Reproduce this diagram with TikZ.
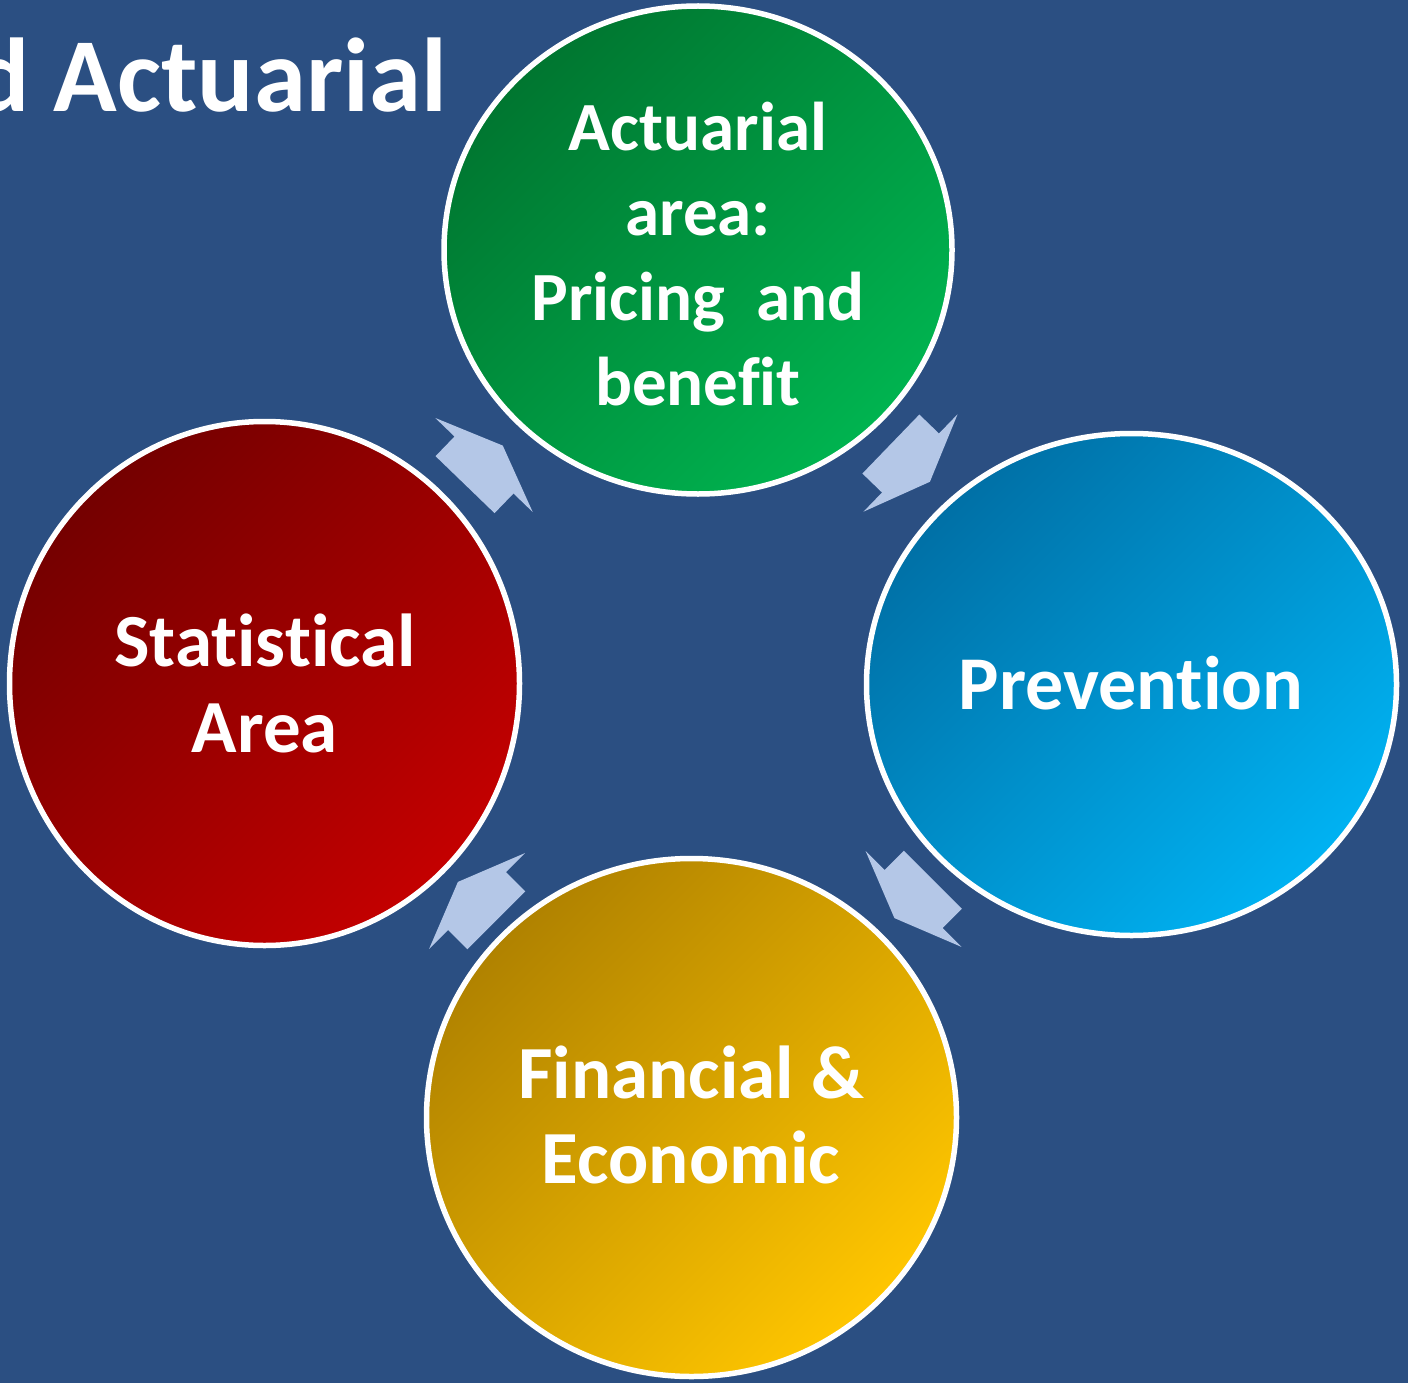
\documentclass[tikz,border=0pt]{standalone}
\usepackage{fontspec}
\setmainfont[Ligatures=NoCommon]{Carlito}
\usetikzlibrary{shapes.geometric}
\definecolor{bgblue}{RGB}{43,79,130}
\definecolor{arrowc}{RGB}{180,199,231}
\definecolor{grA}{RGB}{0,118,48}
\definecolor{grB}{RGB}{0,180,80}
\definecolor{blA}{RGB}{0,112,166}
\definecolor{blB}{RGB}{0,178,242}
\definecolor{goA}{RGB}{176,130,0}
\definecolor{goB}{RGB}{255,198,0}
\definecolor{reA}{RGB}{116,0,0}
\definecolor{reB}{RGB}{196,0,0}
\begin{document}
\begin{tikzpicture}[x=1pt,y=-1pt,
  bubble/.style={ellipse, draw=white, line width=5.5pt, inner sep=0pt},
  diag/.style={shading angle=45},
  lbl/.style={text=white, align=center, inner sep=0pt, font=\bfseries},
  flowarrow/.style={fill=arrowc}]
\useasboundingbox (0,0) rectangle (1408,1383);
\fill[bgblue] (0,0) rectangle (1408,1383);
% title
\node[text=white, font=\fontsize{105}{126}\selectfont\bfseries, anchor=base east, inner sep=0pt] (title) at (447,112) {d Actuarial};
% circles
\node[bubble, minimum width=508pt, minimum height=488pt, top color=grA, bottom color=grB, diag] (green) at (698,250) {};
\node[bubble, minimum width=530pt, minimum height=502pt, top color=blA, bottom color=blB, diag] (blue) at (1131.5,684.5) {};
\node[bubble, minimum width=530pt, minimum height=518pt, top color=goA, bottom color=goB, diag] (gold) at (691.5,1117.5) {};
\node[bubble, minimum width=510pt, minimum height=524pt, top color=reA, bottom color=reB, diag] (red) at (264.5,683.5) {};
% labels
\node[lbl, font=\fontsize{69}{85}\selectfont\bfseries] (tgreen) at (698,254) {Actuarial\\area:\\Pricing\ \ and\\benefit};
\node[lbl, font=\fontsize{76}{90}\selectfont\bfseries, anchor=base] (tblue) at (1131,709) {Prevention};
\node[lbl, font=\fontsize{75}{85}\selectfont\bfseries] (tgold) at (691,1115) {Financial \&\\Economic};
\node[lbl, font=\fontsize{75}{86}\selectfont\bfseries] (tred) at (265,683) {Statistical\\Area};
% block arrows
\foreach \cx/\cy/\ang [count=\i] in {484/465/46, 910.5/463/-44, 913.5/899/-135, 477/901/135}{
  \fill[flowarrow, shift={(\cx,\cy)}, rotate=\ang]
    (-27.3,-41) -- (0,-41) -- (0,-67.7) -- (27,0) -- (0,67.7) -- (0,41) -- (-27.3,41) -- cycle;
}
\end{tikzpicture}
\end{document}
